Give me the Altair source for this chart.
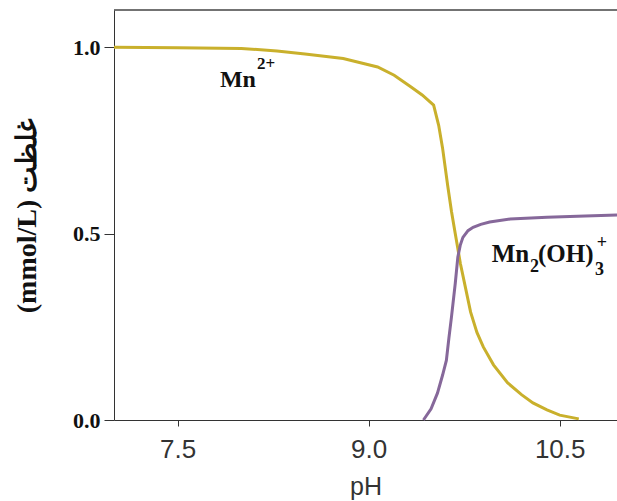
import altair as alt
import pandas as pd

# Mn2+ fraction curve
mn_ph = [7.0, 7.5, 8.0, 8.28, 8.5, 8.8, 9.07, 9.2, 9.33, 9.42, 9.51, 9.55, 9.58, 9.62, 9.65, 9.68, 9.70,
         9.72, 9.76, 9.80, 9.85, 9.90, 9.98, 10.09, 10.2, 10.29, 10.4, 10.5, 10.65]
mn_val = [1.0, 0.999, 0.997, 0.990, 0.982, 0.970, 0.947, 0.925, 0.894, 0.872, 0.845, 0.79, 0.73, 0.63, 0.56, 0.50, 0.46,
          0.42, 0.355, 0.29, 0.235, 0.196, 0.148, 0.10, 0.068, 0.046, 0.027, 0.013, 0.003]

# Mn2(OH)3+ curve
oh_ph = [9.43, 9.49, 9.54, 9.58, 9.61, 9.63, 9.65, 9.68, 9.70, 9.72, 9.74, 9.78,
         9.82, 9.88, 9.95, 10.11, 10.4, 10.7, 10.95]
oh_val = [0.0, 0.03, 0.072, 0.12, 0.16, 0.22, 0.276, 0.367, 0.437, 0.47, 0.49, 0.508,
          0.517, 0.525, 0.531, 0.539, 0.544, 0.547, 0.55]

# annotation pieces (text, pH, value, font size)
ann_text = ["Mn", "2+", "Mn", "2", "(OH)", "3", "+"]
ann_x = [7.832, 8.123, 9.966, 10.267, 10.33, 10.778, 10.79]
ann_y = [0.8935, 0.941, 0.423, 0.398, 0.423, 0.389, 0.461]
ann_size = [24, 17, 25, 18, 25, 18, 18]

x_ticks = [7.5, 9.0, 10.5]
y_ticks = [0.0, 0.5, 1.0]

df_mn = pd.DataFrame({"pH": mn_ph, "c": mn_val})
df_oh = pd.DataFrame({"pH": oh_ph, "c": oh_val})
df_ann = pd.DataFrame({"t": ann_text, "pH": ann_x, "c": ann_y, "s": ann_size})

xs = alt.Scale(domain=[7.0, 10.95], nice=False, zero=False)
ys = alt.Scale(domain=[0, 1.1], nice=False)

x_enc = alt.X("pH:Q", scale=xs, title="pH",
              axis=alt.Axis(values=x_ticks, format=".1f", grid=False,
                            labelFont="Liberation Sans", labelFontSize=26, labelColor="#333",
                            labelPadding=10, tickSize=6, tickColor="#333", domainColor="#333",
                            titleFont="Liberation Sans", titleFontSize=25, titleFontWeight="normal",
                            titleColor="#333", titlePadding=12))
y_enc = alt.Y("c:Q", scale=ys, title="(mmol/L) غلظت",
              axis=alt.Axis(values=y_ticks, format=".1f", grid=False,
                            labelFont="Liberation Serif", labelFontSize=22, labelFontWeight="bold",
                            labelColor="#111", labelPadding=4, tickSize=10, tickColor="#333",
                            domainColor="#333",
                            titleFont="Liberation Serif", titleFontSize=28, titleFontWeight="bold",
                            titleColor="#111", titlePadding=31))

mn_line = alt.Chart(df_mn).mark_line(color="#c9b02c", strokeWidth=3, interpolate="linear").encode(
    x=x_enc, y=y_enc)
oh_line = alt.Chart(df_oh).mark_line(color="#86689a", strokeWidth=3, interpolate="linear").encode(
    x=alt.X("pH:Q", scale=xs), y=alt.Y("c:Q", scale=ys))

top_border = alt.Chart().mark_rule(color="#444", strokeWidth=1.5).encode(y=alt.datum(1.1))

labels = alt.Chart(df_ann).mark_text(
    align="left", baseline="alphabetic", font="Liberation Serif", fontWeight="bold", color="#111"
).encode(
    x=alt.X("pH:Q", scale=xs), y=alt.Y("c:Q", scale=ys),
    text="t:N", size=alt.Size("s:Q", scale=None, legend=None))

chart = alt.layer(mn_line, oh_line, top_border, labels).properties(
    width=503, height=410,
    padding={"left": 114, "top": 10, "right": 0, "bottom": 81},
    autosize=alt.AutoSizeParams(type="none"),
    background="white",
).configure_view(stroke=None)

chart.save("out.html", embed_options={"renderer": "svg", "actions": False})
